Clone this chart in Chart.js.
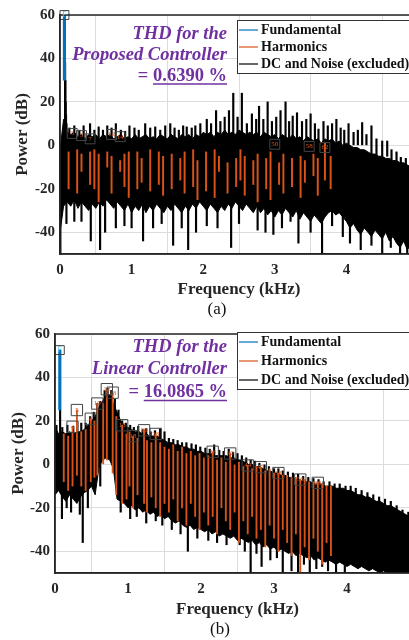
<!DOCTYPE html>
<html>
<head>
<meta charset="utf-8">
<script src="https://cdn.jsdelivr.net/npm/chart.js@4.4.1/dist/chart.umd.min.js"></script>
<style>
  html, body { margin: 0; padding: 0; background: #fff; overflow: hidden; width: 409px; height: 640px; }
  .plot { position: absolute; left: 0; display: block; }
  .cap { position: absolute; font-family: 'Liberation Serif', 'Times New Roman', serif; font-size: 17px; line-height: 20px; color: #111; transform: translateX(-50%); }
</style>
</head>
<body>
<canvas id="chartA" class="plot" width="440" height="300" style="top:0"></canvas>
<div class="cap" style="left:217px; top:299px">(a)</div>
<canvas id="chartB" class="plot" width="440" height="300" style="top:320px"></canvas>
<div class="cap" style="left:220px; top:619px">(b)</div>
<script>
// spacing of the envelope samples, kHz
const BIN = 0.05;
const xTicks = [0, 1, 2, 3, 4];
const yTicks = [-40, -20, 0, 20, 40, 60];

// ---- (a) proposed controller ----
const noiseHiA = [
  -2, 12, 6, 5, 6, 4, 5, 3, 5, 4,
  5, 3, 5, 4, 5, 3, 4, 5, 3, 4,
  3, 5, 3, 4, 5, 3, 4, 3, 5, 4,
  3, 5, 4, 3, 5, 4, 5, 3, 5, 4,
  6, 5, 6, 4, 6, 5, 7, 5, 6, 5,
  7, 6, 5, 6, 5, 6, 4, 6, 5, 4,
  5, 3, 5, 4, 3, 5, 3, 4, 2, 4,
  3, 2, 3, 1, 3, 2, 3, 1, 2, 0,
  1, 0, -1, -1, -2, -2, -3, -4, -4, -5,
  -5, -6, -6, -7, -7, -8, -8, -9, -10, -10,
  -11];
const noiseLoA = [
  -40, -28, -26, -28, -25, -29, -26, -28, -30, -27,
  -29, -26, -28, -25, -27, -29, -26, -28, -30, -27,
  -31, -28, -30, -27, -31, -28, -30, -27, -29, -31,
  -28, -30, -27, -29, -31, -28, -30, -27, -29, -26,
  -28, -30, -27, -29, -31, -28, -30, -27, -29, -26,
  -28, -30, -27, -29, -31, -28, -31, -29, -32, -30,
  -33, -30, -32, -29, -31, -33, -30, -34, -31, -33,
  -35, -32, -34, -36, -33, -31, -30, -32, -31, -33,
  -35, -38, -36, -39, -41, -38, -40, -42, -39, -41,
  -43, -40, -44, -42, -45, -47, -44, -48, -46, -49,
  -50];
// [kHz, from dB, to dB]
const spikesA = [
  [0.071, 0, 38], [0.075, 0, 30], [0.079, 0, 20], [0.084, 0, 14], [0.09, 0, 10],
  [0.13, 0, 8], [0.2, 0, 9], [0.27, 0, 7], [0.33, 0, 9], [0.42, 0, 10], [0.48, 0, 7],
  [0.54, 0, 8.5], [0.6, 0, 7], [0.66, 0, 9], [0.72, 0, 8], [0.78, 0, 10], [0.85, 0, 7],
  [0.91, 0, 6.5], [0.97, 0, 9], [1.04, 0, 8], [1.1, 0, 7], [1.19, 0, 10], [1.26, 0, 8],
  [1.33, 0, 8.5], [1.4, 0, 7], [1.47, 0, 9], [1.54, 0, 10], [1.6, 0, 8], [1.66, 0, 7],
  [1.72, 0, 9], [1.77, 0, 8.5], [1.84, 0, 8], [1.89, 0, 9], [1.96, 0, 10], [2.05, 0, 12],
  [2.11, 0, 10], [2.18, 0, 16], [2.24, 0, 11], [2.3, 0, 13], [2.36, 0, 16], [2.42, 0, 24],
  [2.48, 0, 13], [2.54, 0, 24], [2.61, 0, 10], [2.68, 0, 14.5], [2.74, 0, 12], [2.78, 0, 18],
  [2.84, 0, 12], [2.9, 0, 20], [2.96, 0, 11], [3.02, 0, 13], [3.08, 0, 16], [3.15, 0, 20],
  [3.2, 0, 11], [3.25, 0, 13.5], [3.31, 0, 15], [3.38, 0, 11], [3.44, 0, 12], [3.5, 0, 14.5],
  [3.56, 0, 10], [3.61, 0, 7.5], [3.68, 0, 11], [3.74, 0, 9], [3.8, 0, 10], [3.86, 0, 12],
  [3.92, 0, 8], [3.97, 0, 7], [4.03, 0, 10], [4.1, 0, 6], [4.16, 0, 7], [4.22, 0, 10.5],
  [4.28, 0, 5], [4.35, -5, 9], [4.42, -5, 3], [4.5, -5, 2], [4.57, -5, 2], [4.63, -8, -2],
  [4.7, -8, -3], [4.76, -8, -5.5], [4.83, -10, -6],
  [0.005, -50, -20], [0.09, -36, -20], [0.2, -35, -20], [0.3, -35, -20], [0.43, -44, -20],
  [0.56, -48, -20], [0.63, -40, -20], [0.78, -38, -20], [0.9, -37, -20], [1.0, -38, -20],
  [1.16, -44, -20], [1.3, -38, -20], [1.42, -36, -20], [1.58, -46, -20], [1.7, -38, -20],
  [1.79, -48, -20], [1.9, -40, -20], [2.05, -37, -20], [2.2, -38, -20], [2.39, -47, -20],
  [2.5, -36, -20], [2.76, -39, -20], [2.87, -40, -20], [2.98, -41, -20], [3.1, -38, -20],
  [3.22, -35, -20], [3.33, -45, -20], [3.5, -40, -20], [3.66, -52, -20], [3.8, -37, -20],
  [3.95, -42, -20], [4.05, -45, -20], [4.2, -48, -20], [4.35, -46, -20], [4.5, -50, -20],
  [4.62, -47, -20], [4.75, -52, -20], [4.85, -50, -20]];
const harmA = [
  [0.12, -20, -3], [0.24, -22, -2], [0.3, -12, -4], [0.42, -18, -3], [0.48, -20, -2],
  [0.54, -26, -4], [0.66, -10, -3], [0.72, -22, -5], [0.84, -12, -7], [0.9, -19, -4],
  [0.96, -24, -3], [1.08, -20, -3], [1.14, -17, -6], [1.26, -21, -2], [1.38, -18, -3],
  [1.44, -23, -5], [1.56, -20, -4], [1.68, -16, -6], [1.74, -22, -3], [1.86, -19, -2],
  [1.92, -25, -7], [2.04, -21, -3], [2.16, -24, -2], [2.22, -12, -5], [2.34, -22, -8],
  [2.46, -19, -6], [2.52, -16, -2], [2.58, -23, -5], [2.7, -18, -7], [2.76, -26, -4],
  [2.88, -20, -6], [2.94, -25, -3], [3.06, -18, -8], [3.12, -22, -4], [3.24, -19, -6],
  [3.36, -24, -5], [3.42, -17, -7], [3.54, -14, -4], [3.6, -23, -6], [3.7, -16, 1],
  [3.78, -20, -5]];
const fundA = [0.062, 30, 60];
const boxesA = [[0.17, 5.5, '3'], [0.3, 4.5, '5'], [0.42, 3, '7'], [0.72, 5, '12'],
  [0.84, 4, '14'], [3.0, 0.5, '50'], [3.48, -0.5, '58'], [3.7, -1, '62']];

// ---- (b) linear controller ----
const noiseHiB = [
  17, 14, 15, 14, 15, 14, 15, 15, 16, 18,
  20, 22, 26, 29, 32, 32, 28, 24, 20, 18,
  17, 16, 15, 15, 14, 14, 13, 13, 13, 12,
  11, 10, 10, 9, 9, 8, 8, 7, 7, 6,
  6, 5, 5, 5, 4, 4, 4, 4, 3, 3,
  2, 2, 1, 0, 0, -1, -1, -2, -3, -3,
  -4, -4, -5, -5, -6, -6, -7, -7, -8, -8,
  -8, -9, -9, -9, -10, -10, -10, -11, -11, -11,
  -12, -12, -13, -14, -14, -15, -15, -16, -17, -17,
  -18, -19, -19, -20, -21, -22, -23, -24, -25, -25,
  -26];
const noiseLoB = [
  -14, -12, -15, -17, -14, -16, -18, -15, -13, -12,
  -10, -14, -2, 2, 3, 2, -2, -16, -17, -18,
  -20, -19, -21, -20, -22, -21, -23, -22, -24, -23,
  -25, -24, -26, -27, -26, -28, -29, -28, -30, -29,
  -30, -31, -30, -32, -31, -33, -32, -33, -34, -33,
  -35, -34, -35, -36, -35, -37, -36, -38, -37, -39,
  -38, -40, -39, -40, -41, -40, -42, -41, -42, -43,
  -42, -44, -43, -44, -45, -44, -45, -46, -45, -46,
  -47, -46, -47, -48, -47, -48, -49, -48, -49, -50,
  -49, -50, -50, -50, -50, -50, -50, -50, -50, -50,
  -50];
const spikesB = [
  [0.02, 5, 18], [0.07, 5, 25], [0.1, 5, 17], [0.17, 5, 18], [0.25, 5, 17.5], [0.36, 5, 19],
  [0.42, 5, 19], [0.48, 5, 22], [0.53, 5, 24], [0.58, 10, 28], [0.62, 10, 29], [0.68, 15, 34],
  [0.72, 15, 35], [0.77, 15, 34], [0.82, 10, 30], [0.87, 10, 25], [0.92, 5, 20], [0.97, 5, 19],
  [1.03, 5, 18], [1.08, 5, 17], [1.14, 5, 17.5], [1.2, 5, 16], [1.25, 5, 16.5], [1.31, 5, 15],
  [1.37, 5, 15.5], [1.44, 5, 16.5], [1.5, 5, 15], [1.56, 0, 12], [1.62, 0, 11.5], [1.68, 0, 11],
  [1.74, 0, 10], [1.8, 0, 10], [1.87, 0, 9.5], [1.93, 0, 9], [1.99, 0, 8], [2.06, 0, 7.5],
  [2.12, 0, 7], [2.18, 0, 9], [2.25, 0, 6.5], [2.31, 0, 6], [2.38, 0, 7], [2.44, 0, 5.5],
  [2.5, 0, 5], [2.56, -5, 4], [2.62, -5, 3], [2.68, -5, 2], [2.74, -5, 1.5], [2.8, -5, 0.5],
  [2.87, -5, 0], [2.93, -10, -1], [3.0, -10, -2], [3.06, -10, -2], [3.12, -10, -3],
  [3.19, -10, -3.5], [3.26, -10, -4], [3.33, -10, -4.5], [3.4, -15, -5.5], [3.47, -15, -6],
  [3.54, -15, -6.5], [3.61, -15, -7], [3.68, -15, -8], [3.76, -15, -8], [3.83, -15, -9],
  [3.9, -15, -9], [3.98, -15, -10], [4.05, -20, -10], [4.12, -20, -11], [4.2, -20, -12],
  [4.28, -20, -13], [4.36, -20, -14], [4.44, -25, -15], [4.52, -25, -16], [4.6, -25, -17],
  [4.68, -25, -19], [4.76, -30, -21], [4.84, -30, -22],
  [0.095, -25, -10], [0.16, -20, -10], [0.22, -22, -10], [0.34, -23, -10], [0.38, -36, -10],
  [0.45, -20, -10], [0.62, -10, 0], [0.9, -22, -15], [1.03, -25, -15], [1.12, -24, -15],
  [1.25, -27, -15], [1.38, -26, -15], [1.47, -28, -15], [1.6, -30, -20], [1.72, -32, -20],
  [1.82, -40, -20], [1.95, -34, -20], [2.1, -35, -25], [2.22, -36, -25], [2.35, -37, -25],
  [2.53, -37, -25], [2.6, -40, -25], [2.68, -52, -30], [2.76, -41, -30], [2.83, -47, -30],
  [2.95, -44, -30], [3.04, -43, -30], [3.12, -52, -30], [3.24, -49, -30], [3.33, -52, -30],
  [3.41, -46, -35], [3.49, -52, -35], [3.58, -48, -35], [3.66, -47, -35], [3.74, -49, -35],
  [3.85, -50, -40], [3.97, -50, -40]];
const harmB = [
  [0.12, -8, 14], [0.18, -12, 13], [0.24, -10, 17.3], [0.3, -5, 25], [0.36, -10, 15],
  [0.42, -12, 16], [0.49, -8, 21], [0.54, -6, 20], [0.58, -5, 28], [0.66, 0, 28],
  [0.71, 2, 34.6], [0.79, -4, 33], [0.84, -14, 22], [0.92, -18, 18], [0.98, -16, 14],
  [1.02, -10, 15], [1.07, -20, 13], [1.13, -14, 12], [1.22, -18, 15.7], [1.26, -22, 11],
  [1.32, -15, 10], [1.38, -20, 14], [1.44, -24, 10], [1.5, -18, 8], [1.56, -22, 7],
  [1.62, -16, 9], [1.68, -26, 6], [1.74, -20, 8], [1.8, -28, 5], [1.86, -18, 6],
  [1.92, -24, 4], [1.98, -30, 5], [2.04, -22, 3], [2.1, -28, 4], [2.16, -24, 5.8],
  [2.22, -32, 2], [2.28, -20, 3], [2.34, -26, 1], [2.4, -30, 5], [2.46, -22, 0],
  [2.52, -36, 1], [2.58, -26, -1], [2.64, -32, -0.5], [2.7, -24, -2], [2.76, -34, -1],
  [2.82, -30, -1.3], [2.88, -38, -3], [2.94, -28, -2], [3.0, -34, -4], [3.06, -40, -4],
  [3.12, -30, -5], [3.18, -36, -5], [3.24, -42, -6], [3.3, -32, -6], [3.36, -52, -7],
  [3.42, -38, -7], [3.48, -44, -8], [3.54, -34, -8], [3.6, -40, -8.5], [3.66, -46, -9],
  [3.72, -36, -10], [3.78, -42, -10]];
const fundB = [0.066, 25, 52.6];
const boxesB = [[0.24, 17.3, '4'], [0.3, 25, '5'], [0.49, 21, '8'], [0.58, 28, '10'],
  [0.71, 34.6, '12'], [0.79, 33, '13'], [0.92, 18, '15'], [1.07, 13, '18'], [1.22, 15.7, '20'],
  [1.38, 14, '23'], [2.16, 5.8, '36'], [2.4, 5, '40'], [2.64, -0.5, '44'], [2.82, -1.3, '47'],
  [3.06, -4, '51'], [3.36, -7, '56'], [3.6, -8.5, '60']];

const SERIF = "'Liberation Serif', 'Times New Roman', serif";
const INK = '#262626';

const decor = {
  id: 'decor',
  afterDatasetsDraw(chart, args, o) {
    const { ctx, chartArea: a } = chart;
    ctx.save();
    // axes box (left, top, bottom)
    ctx.strokeStyle = INK;
    ctx.lineWidth = 1.5;
    ctx.beginPath();
    ctx.moveTo(a.right + 5, a.top);
    ctx.lineTo(a.left, a.top);
    ctx.lineTo(a.left, a.bottom);
    ctx.lineTo(a.right + 5, a.bottom);
    ctx.stroke();

    // numbers inside the marker boxes
    ctx.textAlign = 'center';
    ctx.textBaseline = 'middle';
    ctx.font = '8px ' + SERIF;
    chart.getDatasetMeta(0).data.forEach(p => {
      ctx.fillStyle = '#4DBEEE';
      ctx.fillText('F', p.x, p.y);
    });
    ctx.font = '7px ' + SERIF;
    chart.getDatasetMeta(1).data.forEach((p, i) => {
      ctx.fillStyle = '#D95319';
      ctx.fillText(o.boxLabels[i], p.x, p.y);
    });

    // THD note
    const n = o.note;
    ctx.fillStyle = '#7030A0';
    ctx.strokeStyle = '#7030A0';
    ctx.font = 'italic bold 18.5px ' + SERIF;
    ctx.textAlign = 'right';
    ctx.textBaseline = 'alphabetic';
    ctx.fillText('THD for the', n.right, n.base[0]);
    ctx.fillText(n.who, n.right, n.base[1]);
    ctx.font = 'bold 18.5px ' + SERIF;
    const w = ctx.measureText(n.value).width;
    ctx.fillText(n.value, n.right, n.base[2]);
    ctx.fillText('= ', n.right - w, n.base[2]);
    ctx.lineWidth = 1.5;
    ctx.beginPath();
    ctx.moveTo(n.right - w, n.ul);
    ctx.lineTo(n.right, n.ul);
    ctx.stroke();

    // legend
    const L = o.legend;
    ctx.fillStyle = '#fff';
    ctx.fillRect(L.x, L.y, 220, L.h);
    ctx.strokeStyle = '#333';
    ctx.lineWidth = 1;
    ctx.strokeRect(L.x + 0.5, L.y + 0.5, 220, L.h);
    ctx.font = 'bold 14px ' + SERIF;
    ctx.textAlign = 'left';
    ctx.textBaseline = 'middle';
    [2, 3, 4].forEach((di, k) => {
      const ds = chart.data.datasets[di];
      const y = L.rows[k];
      ctx.strokeStyle = ds.backgroundColor;
      ctx.lineWidth = 1.2;
      ctx.beginPath();
      ctx.moveTo(L.x + 2, y);
      ctx.lineTo(L.x + 21, y);
      ctx.stroke();
      ctx.fillStyle = '#111';
      ctx.fillText(ds.label, L.x + 24, y + 0.5);
    });
    ctx.restore();
  }
};

function makeChart(id, d, lay) {
  const band = arr => arr.map((v, i) => ({ x: i * BIN, y: v }));
  const bars = arr => arr.map(s => ({ x: s[0], y: [s[1], s[2]] }));
  const tickFont = { family: SERIF, size: 15, weight: 'bold' };
  const titleFont = { family: SERIF, size: 17, weight: 'bold' };
  const grid = { color: '#dcdcdc', lineWidth: 1, drawTicks: false };
  return new Chart(document.getElementById(id), {
    type: 'line',
    data: {
      datasets: [
        { label: 'F', type: 'scatter', data: [{ x: d.fund[0], y: d.fund[2] }],
          pointStyle: 'rect', pointRadius: lay.fRadius, borderColor: '#444',
          backgroundColor: 'rgba(0,0,0,0)', borderWidth: 1, clip: false },
        { label: 'boxes', type: 'scatter', data: d.boxes.map(b => ({ x: b[0], y: b[1] })),
          pointStyle: 'rect', pointRadius: lay.boxRadius, borderColor: '#444',
          backgroundColor: 'rgba(0,0,0,0)', borderWidth: 1, clip: false },
        { label: 'Fundamental', type: 'bar', data: bars([d.fund]), backgroundColor: '#0072BD',
          barThickness: 2.5, grouped: false },
        { label: 'Harmonics', type: 'bar', data: bars(d.harm), backgroundColor: '#D95319',
          barThickness: lay.harmW, grouped: false },
        { label: 'DC and Noise (excluded)', type: 'bar', data: bars(d.spikes),
          backgroundColor: '#000000', barThickness: 1.5, grouped: false },
        { label: 'hi', data: band(d.hi), borderColor: '#000', borderWidth: 1,
          pointRadius: 0, fill: '+1', backgroundColor: '#000', tension: 0 },
        { label: 'lo', data: band(d.lo), borderColor: '#000', borderWidth: 1,
          pointRadius: 0, fill: false, tension: 0 }
      ]
    },
    options: {
      responsive: false,
      animation: false,
      events: [],
      layout: { padding: { top: lay.padTop, right: lay.padRight, left: 0, bottom: 0 } },
      scales: {
        x: {
          type: 'linear', min: 0, max: 5, offset: false,
          afterBuildTicks: s => { s.ticks = xTicks.map(v => ({ value: v })); },
          afterFit: s => { s.height = lay.xAxisH; },
          grid: grid,
          border: { color: INK, width: 1.5 },
          ticks: { color: INK, font: tickFont, padding: 7, maxRotation: 0 },
          title: { display: true, text: 'Frequency (kHz)', color: INK, font: titleFont,
            padding: { top: 4, bottom: lay.xTitlePad } }
        },
        y: {
          type: 'linear', min: -50, max: 60,
          afterBuildTicks: s => { s.ticks = yTicks.map(v => ({ value: v })); },
          afterFit: s => { s.width = lay.yAxisW; },
          grid: grid,
          border: { color: INK, width: 1.5 },
          ticks: { color: INK, font: tickFont, padding: 5 },
          title: { display: true, text: 'Power (dB)', color: INK, font: titleFont,
            padding: { top: lay.yTitlePad, bottom: 0 } }
        }
      },
      plugins: {
        legend: { display: false },
        tooltip: { enabled: false },
        decor: {
          boxLabels: d.boxes.map(b => b[2]),
          note: lay.note,
          legend: lay.legend
        }
      }
    },
    plugins: [decor]
  });
}

makeChart('chartA',
  { hi: noiseHiA, lo: noiseLoA, spikes: spikesA, harm: harmA, fund: fundA, boxes: boxesA },
  { padTop: 15, padRight: 22, xAxisH: 46, yAxisW: 60, xTitlePad: 0, yTitlePad: 12,
    fRadius: 6.3, boxRadius: 7, harmW: 1.3,
    note: { right: 227, base: [39, 60, 81], who: 'Proposed Controller', value: '0.6390 %', ul: 84 },
    legend: { x: 237, y: 20, h: 53, rows: [30, 47, 64] } });

makeChart('chartB',
  { hi: noiseHiB, lo: noiseLoB, spikes: spikesB, harm: harmB, fund: fundB, boxes: boxesB },
  { padTop: 7, padRight: 20, xAxisH: 47, yAxisW: 55, xTitlePad: 0, yTitlePad: 8,
    fRadius: 6.3, boxRadius: 8, harmW: 1.2,
    note: { right: 227, base: [32, 54, 77], who: 'Linear Controller', value: '16.0865 %', ul: 80.5 },
    legend: { x: 237, y: 12, h: 57, rows: [22, 41, 60] } });
</script>
</body>
</html>
